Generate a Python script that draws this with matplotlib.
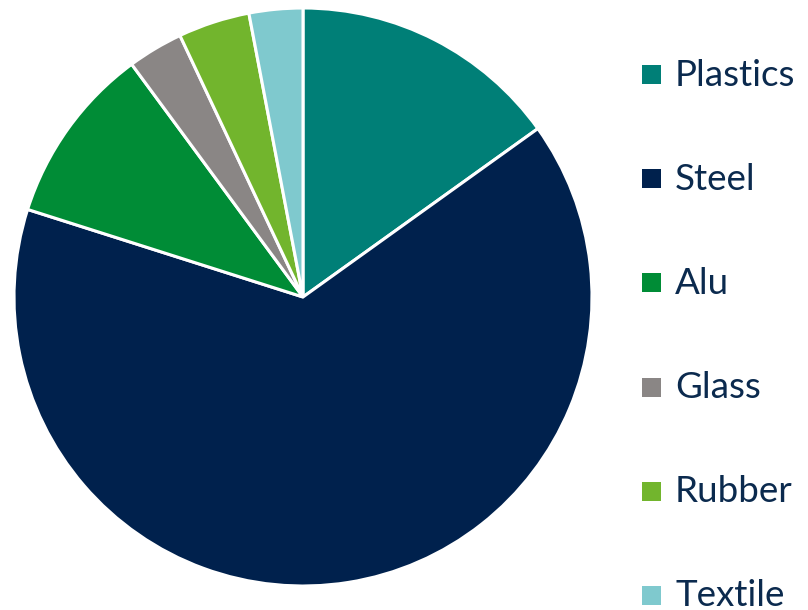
import matplotlib.pyplot as plt
from matplotlib.patches import Rectangle

labels = ["Plastics", "Steel", "Alu", "Glass", "Rubber", "Textile"]
shares = [15.1, 64.8, 10.0, 3.1, 4.0, 3.0]
colors = ["#007F77", "#00214D", "#008C36", "#8A8685", "#72B52D", "#7FC9CE"]

fig = plt.figure(figsize=(8.08, 6.10), dpi=100)
ax = fig.add_axes([0, 0, 1, 1])

ax.pie(shares, colors=colors, startangle=90, counterclock=False,
       center=(303, 313), radius=289, frame=True,
       wedgeprops=dict(edgecolor="white", linewidth=2.2))
ax.set_xlim(0, 808)
ax.set_ylim(0, 610)
ax.set_aspect("equal")
ax.axis("off")

# legend drawn by hand, one row per material
for i, (lab, col) in enumerate(zip(labels, colors)):
    y = 610 - 75 - i * 104.2
    ax.add_patch(Rectangle((642, y - 9), 19, 19, facecolor=col, edgecolor="none"))
    ax.text(675, y, lab, fontsize=26.5, family="Lato", color="#0B2A4E",
            va="center", ha="left")

fig.savefig("out.png", dpi=100)
